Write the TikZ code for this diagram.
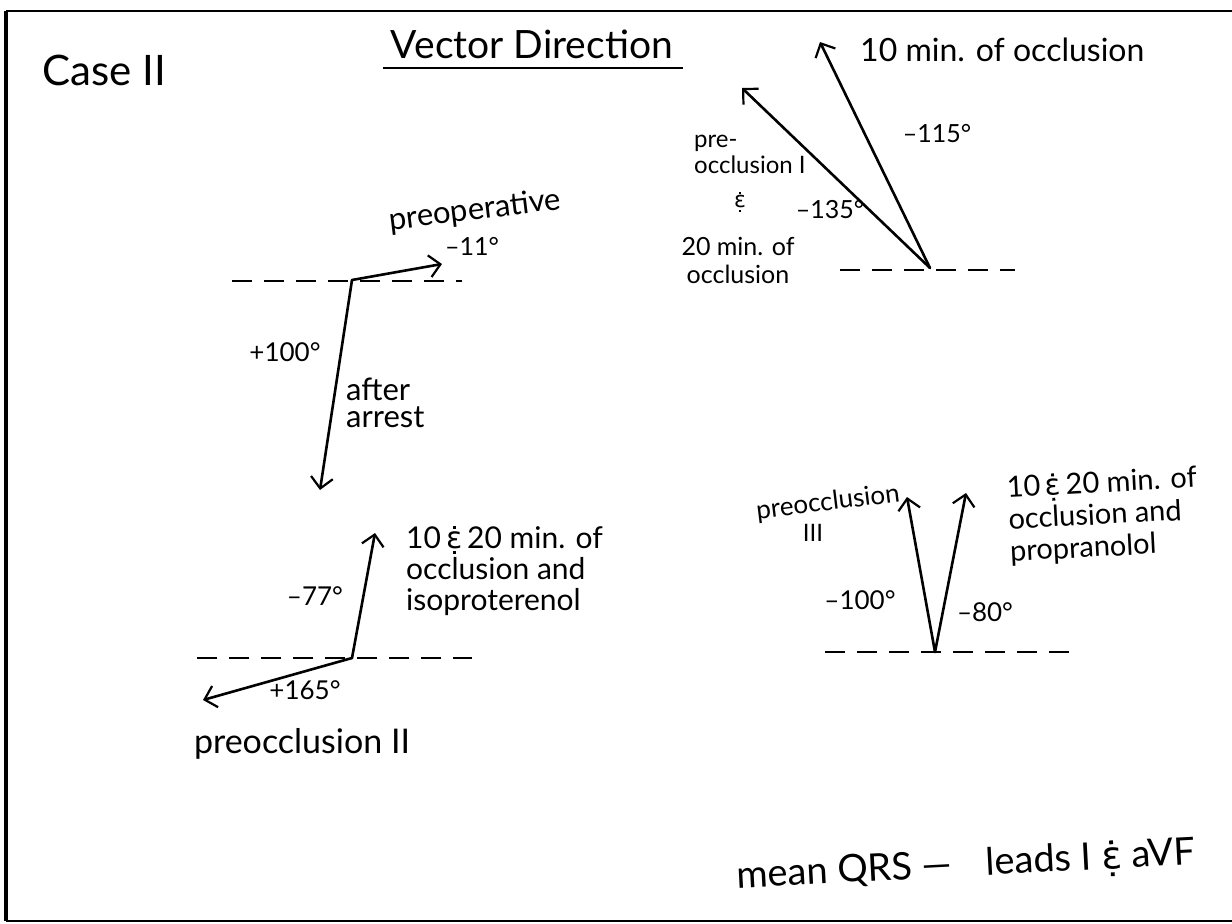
\documentclass[tikz,border=0pt]{standalone}
\usepackage{fontspec}
\setmainfont{Lato}
\newfontfamily\symf{DejaVu Sans}
\usetikzlibrary{arrows.meta}
\newcommand\ampsym{{\symf\ooalign{ɛ\cr\hidewidth\raisebox{.64em}{\rule{.1em}{.1em}}\hidewidth\cr\hidewidth\raisebox{-.20em}{\rule{.1em}{.1em}}\hidewidth\cr}}}
\tikzset{
  vec/.style={line width=2.6pt, line cap=round, -{Straight Barb[length=11pt,width=22pt,line width=2.2pt]}},
  baseln/.style={line width=1.6pt, dash pattern=on 20pt off 12pt},
  lbl/.style={font=\fontsize{30}{30}\selectfont, inner sep=0pt, align=left},
  deg/.style={font=\fontsize{25}{28}\selectfont, inner sep=0pt},
  ttl/.style={font=\fontsize{42}{44}\selectfont, inner sep=0pt},
  frame/.style={line width=1.6pt}
}
\begin{document}
\begin{tikzpicture}[x=1pt,y=-1pt]
\useasboundingbox (0,0) rectangle (1232,924);
\fill[white] (0,0) rectangle (1232,924);
% frame
\coordinate (fTL) at (6,11);
\coordinate (fTR) at (1232,11);
\coordinate (fBL) at (6,921);
\coordinate (fBR) at (1232,921);
\draw[frame] (fTL) -- (fTR);
\draw[frame] (fBL) -- (fBR);
\draw[line width=4.5pt] (fTL) -- (fBL);
% titles
\node[ttl] (case) at (104,70) {Case II};
\node[ttl, font=\fontsize{39}{42}\selectfont] (title) at (532,44) {Vector Direction};
\coordinate (ulA) at (383,68);
\coordinate (ulB) at (683,68);
\draw[line width=2.2pt] (ulA) -- (ulB);
% group A (top right)
\coordinate (oA) at (930,268);
\coordinate (tA1) at (820,42);
\coordinate (tA2) at (742,88);
\coordinate (bA1) at (840,270);
\coordinate (bA2) at (1015,270);
\draw[baseln] (bA1) -- (bA2);
\draw[vec] (oA) -- (tA1);
\draw[vec] (oA) -- (tA2);
\node[lbl, anchor=west, font=\fontsize{32}{32}\selectfont] (lA1) at (860,50) {10 min. of occlusion};
\node[deg] (dA1) at (937,134) {–115°};
\node[deg] (dA2) at (830,210) {–135°};
\node[lbl, anchor=north west, font=\fontsize{24}{26}\selectfont] (lA2) at (694,135) {pre-\\occlusion I};
\node[lbl, font=\fontsize{22}{25}\selectfont] (lA3) at (740,204) {\ampsym};
\node[lbl, align=center, font=\fontsize{25}{28}\selectfont] (lA4) at (738,260) {20 min. of\\occlusion};
% group B (middle left)
\coordinate (oB) at (352,280);
\coordinate (tB1) at (442,264);
\coordinate (tB2) at (320,490);
\coordinate (bB1) at (232,281);
\coordinate (bB2) at (462,281);
\draw[baseln] (bB1) -- (bB2);
\draw[vec] (oB) -- (tB1);
\draw[vec] (oB) -- (tB2);
\node[lbl, rotate=7, font=\fontsize{31}{32}\selectfont] (lB1) at (475,211) {preoperative};
\node[deg] (dB1) at (472,246) {–11°};
\node[deg, font=\fontsize{26}{28}\selectfont] (dB2) at (285,352) {+100°};
\node[lbl, anchor=west, font=\fontsize{31}{27}\selectfont] (lB2) at (346,403) {after\\arrest};
% group C (bottom left)
\coordinate (oC) at (352,658);
\coordinate (tC1) at (375,533);
\coordinate (tC2) at (203,700);
\coordinate (bC1) at (197,658);
\coordinate (bC2) at (472,658);
\draw[baseln] (bC1) -- (bC2);
\draw[vec] (oC) -- (tC1);
\draw[vec] (oC) -- (tC2);
\node[lbl, anchor=north west, font=\fontsize{30}{31}\selectfont] (lC1) at (406,526) {10\,\ampsym\,20 min. of\\occlusion and\\isoproterenol};
\node[deg, font=\fontsize{26}{28}\selectfont] (dC1) at (315,596) {–77°};
\node[deg, font=\fontsize{26}{28}\selectfont] (dC2) at (305,690) {+165°};
\node[lbl, font=\fontsize{34}{36}\selectfont] (lC2) at (302,744) {preocclusion II};
% group D (bottom right)
\coordinate (oD) at (935,652);
\coordinate (tD1) at (907,497);
\coordinate (tD2) at (966,493);
\coordinate (bD1) at (825,652);
\coordinate (bD2) at (1077,652);
\draw[baseln] (bD1) -- (bD2);
\draw[vec] (oD) -- (tD1);
\draw[vec] (oD) -- (tD2);
\node[lbl, rotate=7, font=\fontsize{26}{28}\selectfont] (lD1) at (828,503) {preocclusion};
\node[lbl, font=\fontsize{24}{26}\selectfont] (lD2) at (813,533) {III};
\node[deg, font=\fontsize{26}{28}\selectfont] (dD1) at (860,600) {–100°};
\node[deg, font=\fontsize{26}{28}\selectfont] (dD2) at (985,612) {–80°};
\node[lbl, anchor=north west, rotate=3, font=\fontsize{29}{32}\selectfont] (lD3) at (1006,476) {10\,\ampsym\,20 min. of\\occlusion and\\propranolol};
% bottom note
\node[lbl, rotate=3, font=\fontsize{38}{40}\selectfont] (note) at (966,866) {mean QRS —\hspace{34pt}leads I \ampsym\ aVF};
\end{tikzpicture}
\end{document}
